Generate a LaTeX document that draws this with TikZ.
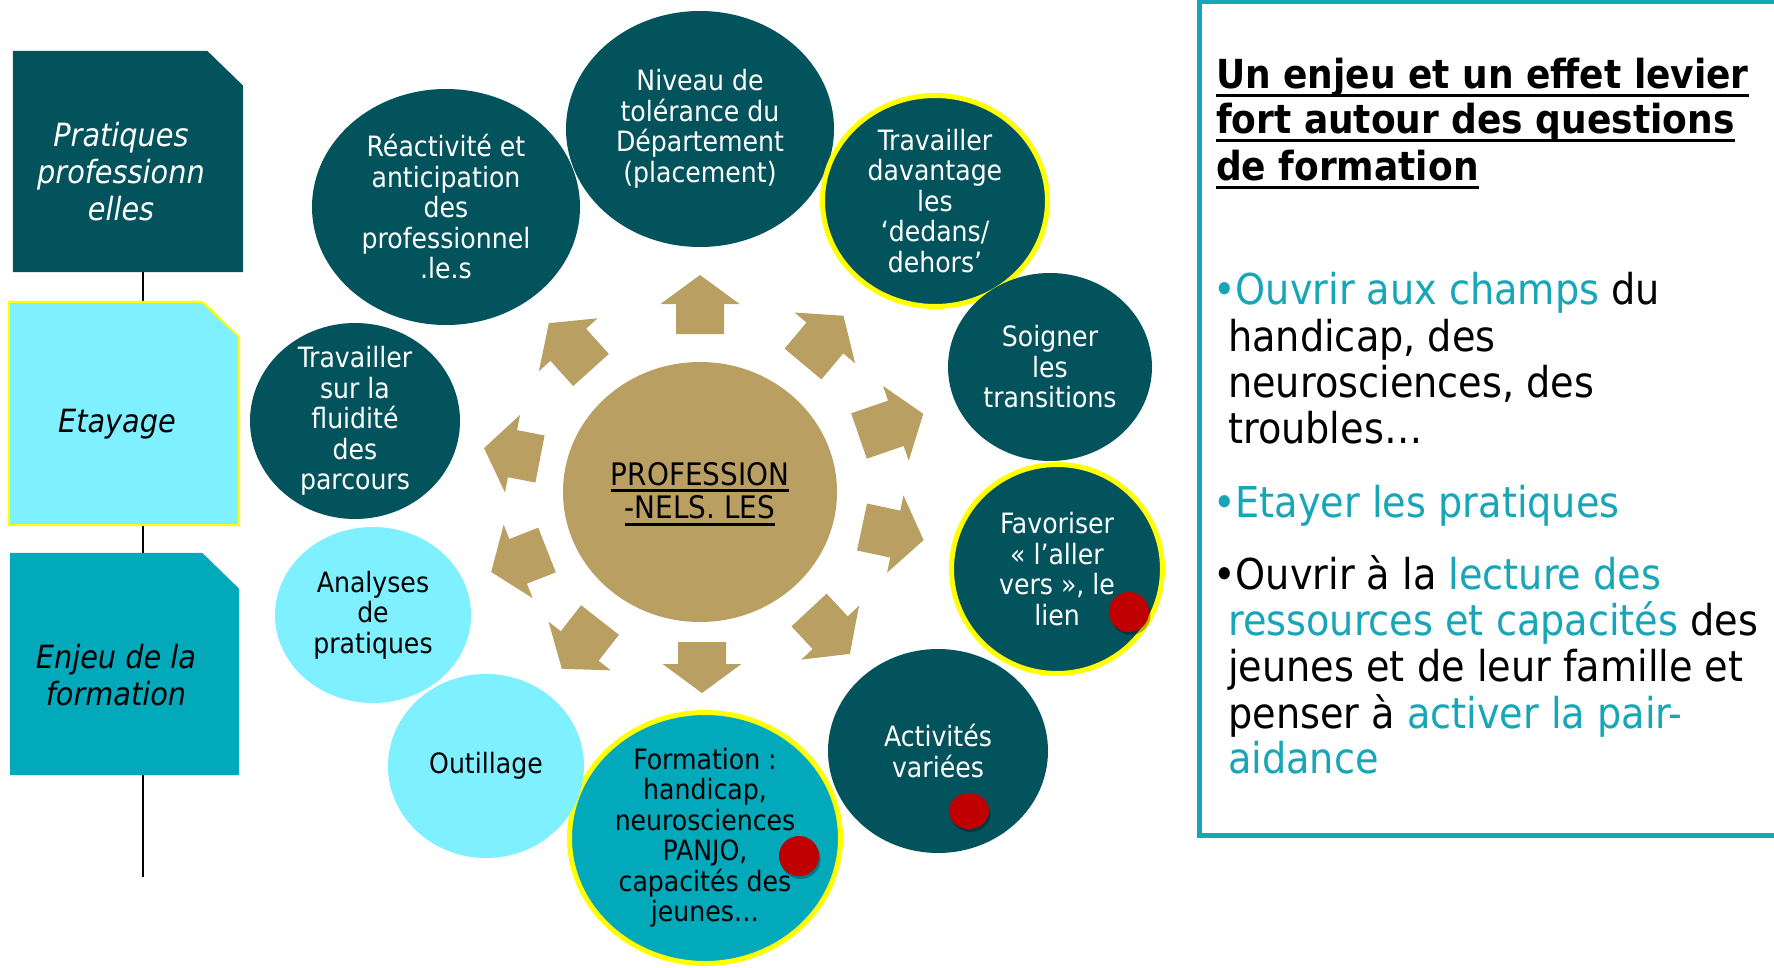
\documentclass[tikz,border=0pt]{standalone}
\usepackage{fontspec}
\setmainfont{DejaVu Sans Condensed}
\usetikzlibrary{shapes.geometric,shadows}
\definecolor{dteal}{HTML}{03535D}
\definecolor{lcyan}{HTML}{7FF0FF}
\definecolor{mteal}{HTML}{02A9BB}
\definecolor{goldc}{HTML}{B9A062}
\definecolor{acc}{HTML}{17A6B8}
\definecolor{rdot}{HTML}{C00000}
\definecolor{yel}{HTML}{FFFF00}
\tikzset{
  circ/.style={ellipse, fill=dteal, inner sep=0pt},
  ring/.style={draw=yel, line width=5pt},
  ctext/.style={align=center, text=white, inner sep=0pt, font=\fontsize{28}{30.5}\selectfont},
  btext/.style={align=center, inner sep=0pt, font=\fontsize{32}{37}\selectfont\itshape},
  rline/.style={anchor=base west, inner sep=0pt, font=\fontsize{42.5}{46}\selectfont},
  tline/.style={anchor=base west, inner sep=0pt, font=\fontsize{40}{45}\selectfont\bfseries},
  cline/.style={anchor=base, inner sep=0pt, font=\fontsize{31}{33}\selectfont},
  uline/.style={line width=3pt},
  reddot/.style={ellipse, fill=rdot, inner sep=0pt, drop shadow={shadow xshift=1.5pt, shadow yshift=-3pt, opacity=0.3, fill=black}},
  boxn/.style={rectangle, inner sep=0pt},
  arrowc/.style={fill=goldc}
}
\begin{document}
\begin{tikzpicture}[x=1pt,y=-1pt]
\useasboundingbox (0,0) rectangle (1774,968);
\fill[white] (0,0) rectangle (1774,968);

% left column boxes
\coordinate (lend) at (143,877);
\node[boxn, minimum width=230pt, minimum height=221pt] (b1) at (128,161.5) {};
\node[boxn, minimum width=230pt, minimum height=223pt] (b2) at (124,413.5) {};
\node[boxn, minimum width=229pt, minimum height=222pt] (b3) at (124.5,664) {};
\draw[line width=2pt] (b1.south -| lend) -- (b2.north -| lend)
  (b2.south -| lend) -- (b3.north -| lend)
  (b3.south -| lend) -- (lend);
\fill[dteal] (b1.north west) -- ([xshift=-36pt]b1.north east) -- ([yshift=-35pt]b1.north east) -- (b1.south east) -- (b1.south west) -- cycle;
\filldraw[fill=lcyan, draw=yel, line width=2pt] (b2.north west) -- ([xshift=-37pt]b2.north east) -- ([yshift=-35pt]b2.north east) -- (b2.south east) -- (b2.south west) -- cycle;
\fill[mteal] (b3.north west) -- ([xshift=-37pt]b3.north east) -- ([yshift=-36pt]b3.north east) -- (b3.south east) -- (b3.south west) -- cycle;
\node[btext, text=white] (bt1) at (121,172) {Pratiques\\professionn\\elles};
\node[btext] (bt2) at (117,424) {Etayage};
\node[btext] (bt3) at (116,675) {Enjeu de la\\formation};

% circles
\node[circ, minimum width=268pt, minimum height=236pt] (reac) at (446,207) {};
\node[ctext] (react) at (reac) {Réactivité et\\anticipation\\des\\professionnel\\.le.s};
\node[circ, minimum width=268pt, minimum height=236pt] (niv) at (700,129) {};
\node[ctext] (nivt) at (niv) {Niveau de\\tolérance du\\Département\\(placement)};
\node[circ, minimum width=210pt, minimum height=196pt] (flu) at (355,421) {};
\node[ctext] (flut) at (flu) {Travailler\\sur la\\fluidité\\des\\parcours};
\node[circ, fill=lcyan, minimum width=196pt, minimum height=176pt] (ana) at (373,615) {};
\node[ctext, text=black] (anat) at (ana) {Analyses\\de\\pratiques};
\node[circ, ring, fill=mteal, minimum width=271pt, minimum height=251pt] (form) at (705,838) {};
\node[circ, fill=lcyan, minimum width=196pt, minimum height=184pt] (out) at (486,766) {};
\node[ctext, text=black] (outt) at (out) {Outillage};
\node[ctext, text=black] (formt) at (form) {Formation :\\handicap,\\neurosciences\\PANJO,\\capacités des\\jeunes…};
\node[circ, ring, minimum width=225pt, minimum height=211pt] (trav) at (935,201) {};
\node[ctext] (travt) at (trav) {Travailler\\davantage\\les\\‘dedans/\\dehors’};
\node[circ, minimum width=204pt, minimum height=188pt] (soi) at (1050,367) {};
\node[ctext] (soit) at (soi) {Soigner\\les\\transitions};
\node[circ, ring, minimum width=211pt, minimum height=209pt] (fav) at (1057,569) {};
\node[ctext] (favt) at (fav) {Favoriser\\« l’aller\\vers », le\\lien};
\node[circ, minimum width=220pt, minimum height=204pt] (act) at (938,751) {};
\node[ctext] (actt) at (act) {Activités\\variées};

% centre
\node[circ, fill=goldc, minimum width=274pt, minimum height=260pt] (ctr) at (700,492) {};
\node[cline] (c1) at (700,485) {PROFESSION};
\node[cline] (c2) at (700,518) {-NELS. LES};
\draw[uline] ([yshift=-5pt]c1.base west) -- ([yshift=-5pt]c1.base east);
\draw[uline] ([yshift=-6pt]c2.base west) -- ([yshift=-6pt]c2.base east);

% arrows
\foreach \bx/\by/\a/\l in {700/334/90/59, 803/364/50/63, 859/436/19/68, 862/527/-12/63,
  809/610/-47/60, 702/642/-90/51, 600/620/-128/62, 547/550/-158.5/60, 540/459/169/57, 591/370/132/63}
{
  \fill[arrowc, shift={(\bx,\by)}, rotate=\a] (0,-24) -- ({\l-29},-24) -- ({\l-29},-39.5) -- (\l,0)
     -- ({\l-29},39.5) -- ({\l-29},24) -- (0,24) -- cycle;
}

% red dots
\node[reddot, minimum width=40pt, minimum height=40pt] (d1) at (1129,612) {};
\node[reddot, minimum width=40pt, minimum height=40pt] (d2) at (799,856) {};
\node[reddot, minimum width=40pt, minimum height=36pt] (d3) at (969,811) {};

% right box
\node[rectangle, draw=acc, line width=5pt, minimum width=601pt, minimum height=833pt, inner sep=0pt] (rbox) at (1499.5,418.5) {};
\node[tline] (t1) at (1216,89) {Un enjeu et un effet levier};
\node[tline] (t2) at (1216,134) {fort autour des questions};
\node[tline] (t3) at (1216,181) {de formation};
\foreach \t in {t1,t2,t3}
  \draw[uline] ([yshift=-7pt]\t.base west) -- ([yshift=-7pt]\t.base east);

\node[rline] (r1) at (1213,304) {{\color{acc}•Ouvrir aux champs} du};
\node[rline] (r2) at (1228,351) {handicap, des};
\node[rline] (r3) at (1228,397) {neurosciences, des};
\node[rline] (r4) at (1228,443) {troubles…};
\node[rline, text=acc] (r5) at (1213,517) {•Etayer les pratiques};
\node[rline] (r6) at (1213,589) {•Ouvrir à la {\color{acc}lecture des}};
\node[rline] (r7) at (1228,635) {{\color{acc}ressources et capacités} des};
\node[rline] (r8) at (1228,681) {jeunes et de leur famille et};
\node[rline] (r9) at (1228,728) {penser à {\color{acc}activer la pair-}};
\node[rline, text=acc] (r10) at (1228,773) {aidance};
\end{tikzpicture}
\end{document}
